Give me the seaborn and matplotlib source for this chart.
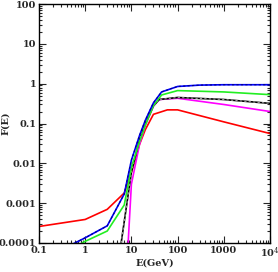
import numpy as np
import pandas as pd
import seaborn as sns
import matplotlib.pyplot as plt
from matplotlib.ticker import LogLocator, FixedLocator, FixedFormatter, NullFormatter

# Curve data (E in GeV, F(E))
red_E = [0.1, 1, 3, 7, 10, 15, 20, 30, 60, 100, 1000, 10000]
red_F = [2.6e-4, 3.9e-4, 7e-4, 1.8e-3, 6e-3, 0.03, 0.07, 0.17, 0.22, 0.22, 0.11, 0.056]

blue_E = [0.5, 1, 3, 7, 10, 15, 20, 30, 45, 100, 300, 1000, 10000]
blue_F = [9e-5, 1.35e-4, 2.7e-4, 1.7e-3, 0.012, 0.05, 0.12, 0.33, 0.62, 0.85, 0.92, 0.94, 0.94]

green_E = [0.85, 1, 3, 7, 10, 15, 20, 30, 45, 100, 1000, 10000]
green_F = [1e-4, 1.1e-4, 2e-4, 9e-4, 8e-3, 0.035, 0.09, 0.28, 0.52, 0.67, 0.62, 0.53]

black_E = [6, 8, 10, 15, 20, 30, 40, 100, 1000, 10000]
black_F = [1e-4, 1e-3, 6e-3, 0.04, 0.1, 0.28, 0.4, 0.45, 0.4, 0.32]

magenta_E = [8.5, 10, 15, 20, 30, 40, 100, 1000, 10000]
magenta_F = [1e-4, 3e-3, 0.03, 0.09, 0.27, 0.4, 0.43, 0.3, 0.2]

x_ticks = [0.1, 1, 10, 100, 1000, 10000]
x_labels = ['0.1', '1', '10', '100', '1000', r'10$^4$']
y_ticks = [1e-4, 1e-3, 1e-2, 0.1, 1, 10, 100]
y_labels = ['0.0001', '0.001', '0.01', '0.1', '1', '10', '100']

sns.set_style('ticks')
plt.rcParams['font.family'] = ['DejaVu Serif']
plt.rcParams['mathtext.fontset'] = 'dejavuserif'

fig = plt.figure(figsize=(2.78, 2.72), dpi=100)
ax = fig.add_axes([39 / 278, 29 / 272, 231 / 278, 239 / 272])

lw = 1.2
sns.lineplot(x=red_E, y=red_F, color='red', lw=lw, ax=ax, sort=False)
sns.lineplot(x=magenta_E, y=magenta_F, color='magenta', lw=lw, ax=ax, sort=False)
sns.lineplot(x=black_E, y=black_F, color='black', lw=lw, ax=ax, sort=False)
sns.lineplot(x=black_E, y=black_F, color='#999999', lw=0.8, ls=(0, (2, 2)), ax=ax, sort=False)
sns.lineplot(x=green_E, y=green_F, color='#22ee22', lw=lw, ax=ax, sort=False)
sns.lineplot(x=blue_E, y=blue_F, color='blue', lw=lw, ax=ax, sort=False)
sns.lineplot(x=blue_E, y=blue_F, color='#000080', lw=0.8, ls=(0, (2, 2)), ax=ax, sort=False)

ax.set_xscale('log')
ax.set_yscale('log')
ax.set_xlim(0.1, 1e4)
ax.set_ylim(1e-4, 100)

ax.xaxis.set_major_locator(FixedLocator(x_ticks))
ax.xaxis.set_major_formatter(FixedFormatter(x_labels))
ax.yaxis.set_major_locator(FixedLocator(y_ticks))
ax.yaxis.set_major_formatter(FixedFormatter(y_labels))
ax.xaxis.set_minor_locator(LogLocator(base=10, subs=np.arange(2, 10), numticks=20))
ax.yaxis.set_minor_locator(LogLocator(base=10, subs=np.arange(2, 10), numticks=20))
ax.xaxis.set_minor_formatter(NullFormatter())
ax.yaxis.set_minor_formatter(NullFormatter())

ax.tick_params(which='both', direction='in', top=True, right=True, width=0.8,
               labelsize=7, pad=2)
ax.tick_params(which='major', length=5)
ax.tick_params(which='minor', length=2.5)
for lab in ax.get_xticklabels() + ax.get_yticklabels():
    lab.set_fontweight('bold')
for s in ax.spines.values():
    s.set_linewidth(1.0)
    s.set_color('black')

ax.set_xlabel('E(GeV)', fontsize=7, fontweight='bold')
ax.set_ylabel('F(E)', fontsize=7, fontweight='bold')
ax.xaxis.set_label_coords(0.5, -0.065)
ax.yaxis.set_label_coords(-0.125, 0.5)

fig.savefig('out.png', dpi=100)
